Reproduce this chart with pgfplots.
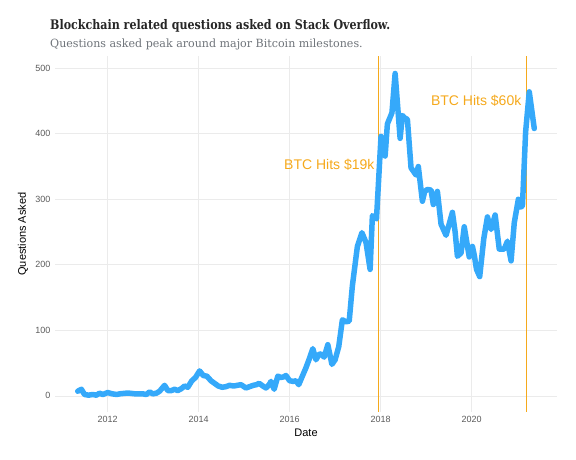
\documentclass[border=0pt]{standalone}
\usepackage{pgfplots}
\pgfplotsset{compat=1.18}
\usepackage{fontspec}
\setmainfont{Liberation Sans}
\newfontfamily\titlefont[FakeStretch=0.84]{DejaVu Serif}
\newfontfamily\subfont[FakeStretch=0.98]{DejaVu Serif}
\definecolor{lineblue}{HTML}{35A9FA}
\definecolor{btcorange}{HTML}{F5A91C}
\definecolor{gridgray}{HTML}{EBEBEB}
\definecolor{ticktext}{HTML}{5A5A5A}
\definecolor{subgray}{HTML}{6E7379}
\begin{document}
\begin{tikzpicture}
\path[use as bounding box] (-55pt,-48pt) rectangle (521pt,412pt);
\begin{axis}[
  at={(0pt,0pt)}, anchor=south west,
  scale only axis, width=502pt, height=356pt,
  xmin=2010.84, xmax=2021.88, ymin=-24.7, ymax=518.7,
  axis line style={draw=none},
  major tick length=0pt,
  xtick={2012,2014,2016,2018,2020},
  ytick={0,100,200,300,400,500},
  grid=major,
  major grid style={gridgray, line width=0.6pt},
  /pgf/number format/assume math mode=true,
  /pgf/number format/1000 sep={},
  xticklabel style={font=\fontsize{9}{10}\selectfont, text=ticktext, yshift=-1pt},
  yticklabel style={font=\fontsize{9}{10}\selectfont, text=ticktext, xshift=-1pt},
  clip=false,
]
\addplot[btcorange, line width=1.3pt] coordinates {(2017.96,-24.7) (2017.96,518.7)};
\addplot[btcorange, line width=1.3pt] coordinates {(2021.21,-24.7) (2021.21,518.7)};
\addplot[lineblue, line width=5.5pt, line join=round, line cap=round] coordinates {
(2011.34,7) (2011.42,10) (2011.49,2) (2011.58,1) (2011.67,2) (2011.75,1) (2011.82,4) (2011.89,2)
(2012.00,5) (2012.10,3) (2012.20,2) (2012.26,3) (2012.40,4) (2012.48,4) (2012.60,3) (2012.70,3)
(2012.77,3) (2012.85,2) (2012.92,6) (2012.99,3) (2013.07,4) (2013.14,7) (2013.25,16) (2013.32,8)
(2013.40,8) (2013.47,10) (2013.54,8) (2013.62,11) (2013.69,15) (2013.76,13) (2013.85,23) (2013.93,28)
(2014.02,38) (2014.10,31) (2014.18,30) (2014.27,23) (2014.35,19) (2014.43,15) (2014.52,13) (2014.60,14)
(2014.68,16) (2014.77,15) (2014.85,16) (2014.93,17) (2015.04,12) (2015.12,14) (2015.20,16) (2015.27,17)
(2015.33,19) (2015.41,15) (2015.48,12) (2015.55,17) (2015.59,22) (2015.66,10) (2015.74,30) (2015.81,28)
(2015.87,29) (2015.92,31) (2016.00,23) (2016.08,22) (2016.14,23) (2016.20,17) (2016.28,30) (2016.36,43)
(2016.43,56) (2016.51,72) (2016.58,55) (2016.64,63) (2016.69,64) (2016.76,59) (2016.84,78) (2016.93,48)
(2017.00,55) (2017.08,75) (2017.16,116) (2017.24,113) (2017.31,114) (2017.38,168) (2017.49,228) (2017.59,249)
(2017.68,234) (2017.77,193) (2017.82,275) (2017.91,270) (2018.01,396) (2018.06,380) (2018.10,366) (2018.15,415)
(2018.25,432) (2018.32,492) (2018.43,393) (2018.48,428) (2018.53,424) (2018.59,422) (2018.67,348) (2018.73,342)
(2018.78,337) (2018.83,350) (2018.92,297) (2018.97,312) (2019.03,315) (2019.11,314) (2019.16,292) (2019.25,312)
(2019.33,262) (2019.44,245) (2019.52,265) (2019.58,280) (2019.64,250) (2019.69,213) (2019.77,218) (2019.84,258)
(2019.95,212) (2020.02,228) (2020.06,215) (2020.11,193) (2020.18,182) (2020.27,240) (2020.35,273) (2020.43,254)
(2020.52,276) (2020.61,224) (2020.72,224) (2020.79,236) (2020.87,206) (2020.94,264) (2021.03,300) (2021.08,288)
(2021.12,290) (2021.19,403) (2021.27,464) (2021.38,408)
};
\node[anchor=east, text=btcorange, font=\fontsize{14}{16}\selectfont, inner sep=0pt] at (axis cs:2017.87,352) {BTC Hits \$19k};
\node[anchor=east, text=btcorange, font=\fontsize{14}{16}\selectfont, inner sep=0pt] at (axis cs:2021.10,451) {BTC Hits \$60k};
\end{axis}
\node[font=\fontsize{11}{13}\selectfont, inner sep=0pt] at (251pt,-21pt) {Date};
\node[rotate=90, font=\fontsize{11}{13}\selectfont, inner sep=0pt] at (-32pt,178pt) {Questions Asked};
\node[anchor=base west, inner sep=0pt, font=\titlefont\bfseries\fontsize{13.2}{15}\selectfont, text=black!85] at (-5pt,382pt) {Blockchain related questions asked on Stack Overflow.};
\node[anchor=base west, inner sep=0pt, font=\subfont\fontsize{11.3}{13}\selectfont, text=subgray] at (-5pt,364pt) {Questions asked peak around major Bitcoin milestones.};
\end{tikzpicture}
\end{document}
